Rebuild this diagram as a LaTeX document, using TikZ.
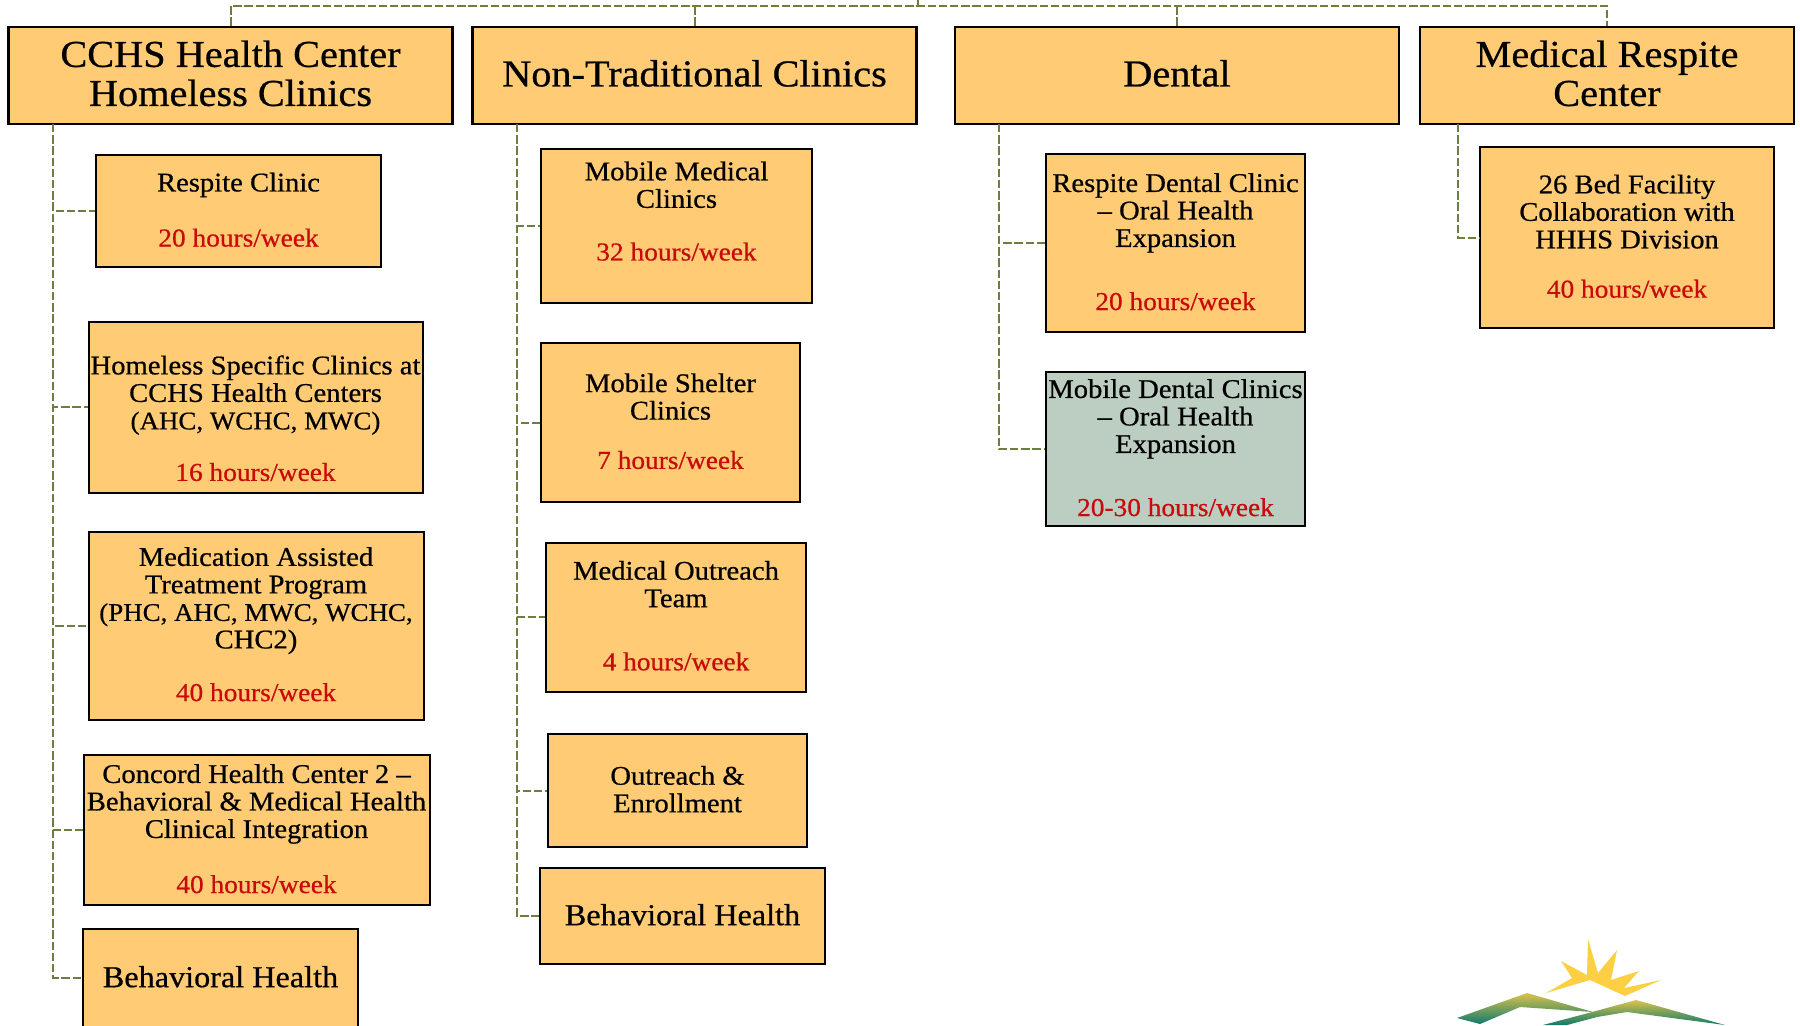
\documentclass[tikz,border=0pt]{standalone}
\usepackage{fontspec}
\setmainfont[FakeStretch=1.06,FakeBold=0.6]{Liberation Serif}
\usepackage{xcolor}
\definecolor{boxfill}{HTML}{FFCC75}
\definecolor{boxgreen}{HTML}{BCCDC1}
\definecolor{hoursred}{HTML}{C80A0A}
\definecolor{linkgreen}{HTML}{6B7F3F}
\definecolor{sunyellow}{HTML}{FDCF42}
\definecolor{hilltop}{HTML}{DCC24C}
\definecolor{hillfoot}{HTML}{0E7B6C}
\newcommand{\hrs}[1]{{\fontsize{12.9}{13.75}\selectfont\textcolor{hoursred}{#1}}}
\newcommand{\caps}[1]{{\fontsize{12.7}{13.75}\selectfont #1}}
\newcommand{\padtop}[1]{\rule{0pt}{#1}}
\newcommand{\padbot}[1]{\rule[-#1]{0pt}{#1}}
\tikzset{
	headbox/.style={draw=black, line width=1.2pt, fill=boxfill, align=center, inner sep=0pt,
		font=\fontsize{19}{19.5}\selectfont, execute at end node={\padbot{2.3pt}}},
	subbox/.style={draw=black, line width=1pt, fill=boxfill, align=center, inner sep=0pt,
		font=\fontsize{13.5}{13.75}\selectfont, execute at end node={\padbot{1.4pt}}},
	bhbox/.style={subbox, font=\fontsize{15.2}{17}\selectfont},
	link/.style={draw=linkgreen, line width=1pt, dash pattern=on 4.2pt off 1.4pt}
}
\begin{document}
\begin{tikzpicture}[x=0.5pt,y=-0.5pt]
	\clip (0,0) rectangle (1800,1025);
	% top row
	\node[headbox, minimum width=222pt, minimum height=48.5pt] (ccchs) at (230.5,75.5) {CCHS Health Center\\Homeless Clinics};
	\node[headbox, minimum width=222pt, minimum height=48.5pt] (nontrad) at (694.5,75.5) {Non-Traditional Clinics};
	\node[headbox, minimum width=222pt, minimum height=48.5pt] (dental) at (1177,75.5) {Dental};
	\node[headbox, minimum width=187pt, minimum height=48.5pt] (respitectr) at (1607,75.5) {Medical Respite\\Center};
	% first column
	\node[subbox, minimum width=142.5pt, minimum height=56pt] (respite) at (238.5,211) {Respite Clinic\\[13.8pt]\hrs{20 hours/week}};
	\node[subbox, minimum width=167pt, minimum height=85.5pt] (homeless) at (255.5,407) {\padtop{22pt}Homeless Specific Clinics at\\CCHS Health Centers\\\caps{(AHC, WCHC, MWC)}\\[12pt]\hrs{16 hours/week}};
	\node[subbox, minimum width=167.5pt, minimum height=94pt] (mat) at (256,625.5) {Medication Assisted\\Treatment Program\\\caps{(PHC, AHC, MWC, WCHC,}\\CHC2)\\[12.6pt]\hrs{40 hours/week}};
	\node[subbox, minimum width=173pt, minimum height=75pt] (concord) at (256.5,830) {Concord Health Center 2 --\\Behavioral \& Medical Health\\Clinical Integration\\[13.8pt]\hrs{40 hours/week}};
	\node[bhbox, minimum width=137.5pt, minimum height=49pt] (bhleft) at (220.5,978) {Behavioral Health};
	% second column
	\node[subbox, minimum width=135.5pt, minimum height=77pt] (medical) at (676.5,226) {Mobile Medical\\Clinics\\[12.6pt]\hrs{32 hours/week}\padbot{15pt}};
	\node[subbox, minimum width=129.5pt, minimum height=79.5pt] (shelter) at (670.5,422.5) {Mobile Shelter\\Clinics\\[10.9pt]\hrs{7 hours/week}};
	\node[subbox, minimum width=130pt, minimum height=74.5pt] (outreach) at (676,617) {Medical Outreach\\Team\\[17.8pt]\hrs{4 hours/week}};
	\node[subbox, minimum width=129.5pt, minimum height=56.5pt] (enroll) at (677.5,790.5) {Outreach \&\\Enrollment};
	\node[bhbox, minimum width=142.5pt, minimum height=48pt] (bhmid) at (682.5,916) {Behavioral Health};
	% third column
	\node[subbox, minimum width=129.5pt, minimum height=89pt] (dentalclinic) at (1175.5,243) {Respite Dental Clinic\\-- Oral Health\\Expansion\\[17.8pt]\hrs{20 hours/week}};
	\node[subbox, fill=boxgreen, minimum width=129.5pt, minimum height=77pt] (dentalmobile) at (1175.5,449) {Mobile Dental Clinics\\-- Oral Health\\Expansion\\[17.8pt]\hrs{20-30 hours/week}};
	% fourth column
	\node[subbox, minimum width=147pt, minimum height=90.5pt] (bedfacility) at (1627,237.5) {26 Bed Facility\\Collaboration with\\HHHS Division\\[10.9pt]\hrs{40 hours/week}};
	% connectors
	\coordinate (busmid) at (917.6,6);
	\coordinate (busend) at (917.6,0);
	\coordinate (trunka) at (53,124);
	\coordinate (trunkb) at (517,124);
	\coordinate (trunkc) at (999,124);
	\coordinate (trunkd) at (1458,124);
	\draw[link] (ccchs.north) |- (busmid) -| (respitectr.north);
	\draw[link] (busmid) -- (busend);
	\draw[link] (nontrad.north) -- (nontrad.north |- busmid);
	\draw[link] (dental.north) -- (dental.north |- busmid);
	\foreach \kid in {respite,homeless,mat,concord,bhleft}
		\draw[link] (trunka) |- (\kid.west);
	\foreach \kid in {medical,shelter,outreach,enroll,bhmid}
		\draw[link] (trunkb) |- (\kid.west);
	\foreach \kid in {dentalclinic,dentalmobile}
		\draw[link] (trunkc) |- (\kid.west);
	\draw[link] (trunkd) |- (bedfacility.west);
	% logo
	\fill[sunyellow] (1546,993) -- (1572,978) -- (1561,961) -- (1587,975) -- (1588,939) -- (1598,973) -- (1617,950) -- (1611,980) -- (1639,971) -- (1624,988) -- (1661,980) -- (1625,996) -- (1590,980) -- cycle;
	\shade[top color=hilltop, bottom color=hillfoot] (1457,1018) -- (1527,993) -- (1593,1012) -- (1520,1007) -- (1480,1024) -- cycle;
	\shade[top color=hilltop, bottom color=hillfoot] (1543,1025) -- (1592,1012) -- (1636,1000) -- (1725,1025) -- (1627,1012) -- (1597,1017) -- (1567,1025) -- cycle;
\end{tikzpicture}
\end{document}
